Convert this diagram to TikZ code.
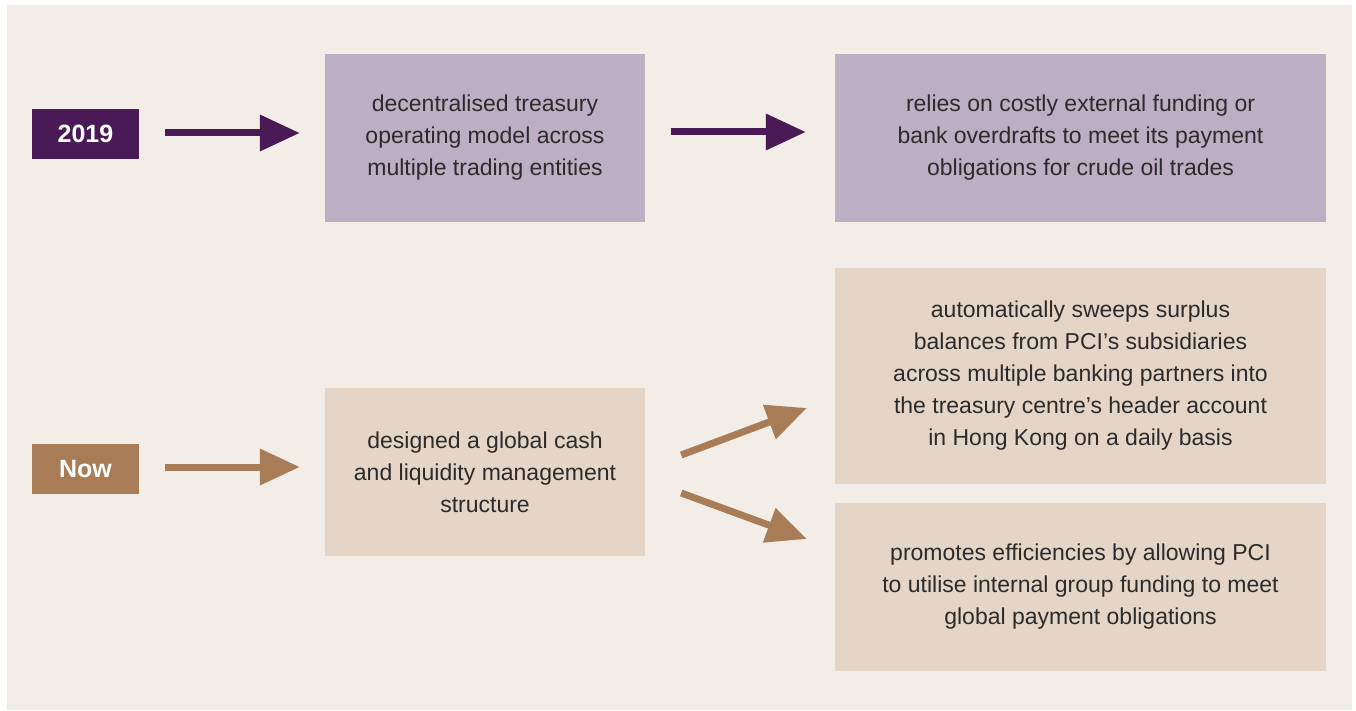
\documentclass[tikz,border=0pt]{standalone}
\usepackage{fontspec}
\setmainfont{Liberation Sans}
\usetikzlibrary{arrows.meta,calc}
\definecolor{bgbeige}{HTML}{F2EDE6}
\definecolor{darkpurple}{HTML}{4A1A57}
\definecolor{lightpurple}{HTML}{BCAEC3}
\definecolor{brownc}{HTML}{A87C57}
\definecolor{lighttan}{HTML}{E5D5C6}
\definecolor{txt}{HTML}{2B2B2B}
\tikzset{
  yearlabel/.style={minimum width=107pt, minimum height=50pt, inner sep=0pt, text=white,
    font=\fontsize{25}{30}\selectfont\bfseries},
  infobox/.style={inner sep=0pt, minimum height=168pt, align=center, text=txt,
    font=\fontsize{23}{32}\selectfont},
  narrowbox/.style={infobox, minimum width=320pt},
  widebox/.style={infobox, minimum width=491pt},
  arr/.style={line width=7pt, -{Triangle[length=40pt,width=35pt]}}
}
\begin{document}
\begin{tikzpicture}[x=1pt,y=-1pt]
\useasboundingbox (0,0) rectangle (1356,711);
\fill[white] (0,0) rectangle (1356,711);
\fill[bgbeige] (7,5) rectangle (1352,710);

% 2019 row
\node[yearlabel, fill=darkpurple] (y2019) at (85.5,134) {2019};
\node[narrowbox, fill=lightpurple] (b1) at (485,138) {decentralised treasury\\operating model across\\multiple trading entities};
\node[widebox, fill=lightpurple] (b2) at (1080.5,138) {relies on costly external funding or\\bank overdrafts to meet its payment\\obligations for crude oil trades};

% Now row
\node[yearlabel, fill=brownc] (ynow) at (85.5,469) {Now};
\node[narrowbox, fill=lighttan] (b3) at (485,472) {designed a global cash\\and liquidity management\\structure};
\node[widebox, fill=lighttan, minimum height=216pt] (b4) at (1080.5,376) {automatically sweeps surplus\\balances from PCI’s subsidiaries\\across multiple banking partners into\\the treasury centre’s header account\\in Hong Kong on a daily basis};
\node[widebox, fill=lighttan] (b5) at (1080.5,587) {promotes efficiencies by allowing PCI\\to utilise internal group funding to meet\\global payment obligations};

% horizontal arrows
\coordinate (a1s) at ($(y2019.east)+(26,-1)$);
\coordinate (a1e) at ($(b1.west)+(-25,-5)$);
\draw[arr, darkpurple] (a1s) -- (a1e);
\coordinate (a2s) at ($(b1.east)+(26,-6)$);
\coordinate (a2e) at ($(b2.west)+(-29,-6)$);
\draw[arr, darkpurple] (a2s) -- (a2e);
\coordinate (a3s) at ($(ynow.east)+(26,-2)$);
\coordinate (a3e) at ($(b3.west)+(-25,-5)$);
\draw[arr, brownc] (a3s) -- (a3e);

% diagonal arrows
\coordinate (d1s) at ($(b3.east)+(36,-17)$);
\coordinate (d1e) at ($(b4.west)+(-28,32)$);
\draw[arr, brownc] (d1s) -- (d1e);
\coordinate (d2s) at ($(b3.east)+(36,21)$);
\coordinate (d2e) at ($(b5.west)+(-28,-48)$);
\draw[arr, brownc] (d2s) -- (d2e);
\end{tikzpicture}
\end{document}
